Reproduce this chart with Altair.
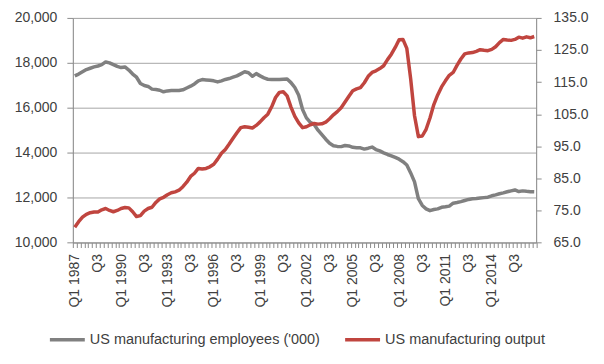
import altair as alt
import pandas as pd

# Quarterly categories Q1 1987 .. Q4 2016
years = list(range(1987, 2017))
quarters = [f"Q{q} {y}" for y in years for q in (1, 2, 3, 4)]

# Axis labels shown every 6 quarters
tick_label_positions = list(range(0, 120, 6))
tick_labels = ["Q1 1987", "Q3", "Q1 1990", "Q3", "Q1 1993", "Q3", "Q1 1996", "Q3",
               "Q1 1999", "Q3", "Q1 2002", "Q3", "Q1 2005", "Q3", "Q1 2008", "Q3",
               "Q1 2011", "Q3", "Q1 2014", "Q3"]

employees = [
    17420, 17500, 17600, 17700, 17760, 17820, 17860, 17920, 18040, 18000,
    17920, 17840, 17790, 17815, 17680, 17500, 17360, 17080, 16990, 16950,
    16830, 16810, 16780, 16710, 16750, 16765, 16765, 16765, 16800, 16880,
    16960, 17060, 17200, 17255, 17240, 17225, 17200, 17150, 17200, 17260,
    17300, 17360, 17420, 17510, 17600, 17560, 17400, 17520, 17420, 17330,
    17270, 17255, 17255, 17255, 17270, 17280, 17120, 16900, 16560, 15920,
    15550, 15350, 15250, 15000, 14800, 14600, 14420, 14310, 14280, 14270,
    14320, 14300, 14240, 14225, 14215, 14160, 14200, 14250, 14140, 14080,
    13990, 13920, 13860, 13790, 13710, 13600, 13450, 13100, 12700, 11950,
    11650, 11500, 11420, 11470, 11500, 11570, 11590, 11620, 11750, 11780,
    11820, 11870, 11920, 11950, 11960, 11980, 12000, 12020, 12080, 12120,
    12170, 12210, 12260, 12300, 12340, 12270, 12300, 12280, 12265, 12260,
]

output = [
    69.8, 71.5, 72.9, 73.8, 74.3, 74.5, 74.5, 75.2, 75.6, 75.0,
    74.6, 75.0, 75.6, 75.9, 75.8, 74.6, 73.1, 73.4, 74.8, 75.6,
    76.0, 77.5, 78.6, 79.1, 79.9, 80.5, 80.8, 81.3, 82.4, 83.8,
    85.6, 86.6, 88.1, 87.9, 88.1, 88.6, 89.4, 91.0, 92.8, 94.0,
    95.7, 97.5, 99.2, 100.8, 101.1, 100.9, 100.7, 101.5, 102.6, 103.9,
    105.0, 107.3, 110.2, 111.8, 112.0, 110.7, 107.2, 104.3, 102.3, 100.8,
    101.1, 101.7, 102.1, 101.9, 102.0, 102.5, 103.6, 104.8, 105.8, 107.0,
    108.8, 110.6, 112.3, 112.9, 113.3, 114.8, 116.8, 118.0, 118.5, 119.2,
    120.1, 122.0, 123.7, 125.8, 128.2, 128.3, 125.5, 116.0, 104.5, 98.0,
    98.2, 100.3, 103.8, 108.0, 111.0, 113.5, 115.4, 117.1, 118.0, 120.2,
    122.2, 123.8, 124.1, 124.2, 124.6, 125.1, 124.9, 124.8, 125.2, 126.0,
    127.3, 128.3, 128.1, 128.0, 128.3, 129.0, 128.7, 129.1, 128.8, 129.2,
]

series_names = ["US manufacturing employees ('000)", "US manufacturing output"]
series_colors = ["#808080", "#c0453f"]

n = len(quarters)
df = pd.DataFrame({
    "idx": list(range(n)) * 2,
    "quarter": quarters * 2,
    "series": [series_names[0]] * n + [series_names[1]] * n,
    "value": employees + output,
})

# label lookup array indexed by category position (ticks sit on category boundaries)
lookup = [""] * (n + 1)
for p, t in zip(tick_label_positions, tick_labels):
    lookup[p] = t
label_expr = "[" + ",".join("'" + s + "'" for s in lookup) + "][round(datum.value + 0.5)] || ''"

FONT = "Liberation Sans"
TXT = "#404040"
AX = "#8c8c8c"

plot_w = 464.5
cat_w = plot_w / n

x_enc = alt.X(
    "idx:Q",
    scale=alt.Scale(domain=[-0.5, n - 0.5], nice=False, zero=False),
    axis=alt.Axis(
        values=[k - 0.5 for k in range(n + 1)],
        labelExpr=label_expr,
        labelAngle=270,
        labelAlign="right",
        labelBaseline="middle",
        labelOffset=cat_w / 2,
        labelOverlap=False,
        labelPadding=6,
        tickSize=5,
        tickColor=AX,
        domainColor=AX,
        grid=False,
        labelFont=FONT,
        labelFontSize=14,
        labelColor=TXT,
    ),
    title=None,
)

color_enc = alt.Color(
    "series:N",
    scale=alt.Scale(domain=series_names, range=series_colors),
    legend=alt.Legend(
        orient="none",
        direction="horizontal",
        legendX=-25,
        legendY=303,
        title=None,
        symbolType="stroke",
        symbolSize=1225,
        symbolStrokeWidth=3.5,
        labelFont=FONT,
        labelFontSize=14.5,
        labelColor=TXT,
        labelOffset=3,
        labelLimit=400,
        columnPadding=18,
        padding=0,
    ),
)

base = alt.Chart(df)

emp = base.transform_filter(alt.datum.series == series_names[0]).mark_line(
    strokeWidth=3.5, strokeJoin="round"
).encode(
    x=x_enc,
    y=alt.Y(
        "value:Q",
        scale=alt.Scale(domain=[10000, 20000], nice=False, zero=False),
        axis=alt.Axis(
            values=list(range(10000, 20001, 2000)),
            format=",.0f",
            grid=True,
            gridColor="#a6a6a6",
            tickSize=6,
            tickColor=AX,
            domainColor=AX,
            labelPadding=10,
            labelFont=FONT,
            labelFontSize=14,
            labelColor=TXT,
        ),
        title=None,
    ),
    color=color_enc,
)

out = base.transform_filter(alt.datum.series == series_names[1]).mark_line(
    strokeWidth=3.5, strokeJoin="round"
).encode(
    x=x_enc,
    y=alt.Y(
        "value:Q",
        scale=alt.Scale(domain=[65, 135], nice=False, zero=False),
        axis=alt.Axis(
            orient="right",
            values=list(range(65, 136, 10)),
            format=".1f",
            grid=False,
            tickSize=5,
            tickColor=AX,
            domainColor=AX,
            labelPadding=12,
            labelFont=FONT,
            labelFontSize=14,
            labelColor=TXT,
        ),
        title=None,
    ),
    color=color_enc,
)

chart = alt.layer(emp, out).resolve_scale(y="independent").properties(
    width=plot_w,
    height=225.2,
    autosize=alt.AutoSizeParams(type="none"),
    padding={"left": 65, "top": 9.5, "right": 60, "bottom": 115},
).configure_view(stroke=None).configure(background="white")

chart.save("out.html", embed_options={"renderer": "svg", "actions": False})
